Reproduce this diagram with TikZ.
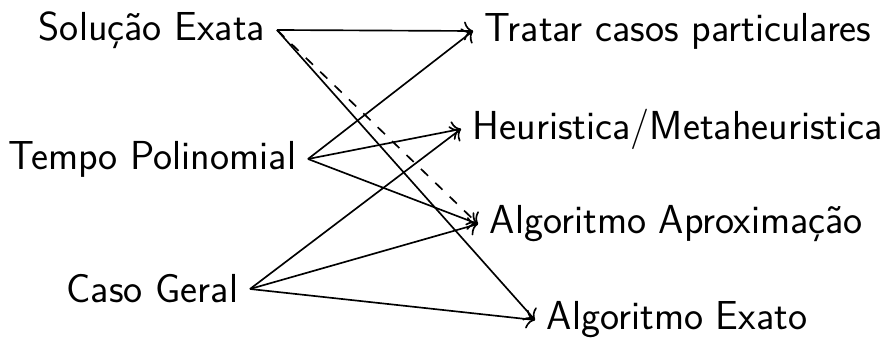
\documentclass[tikz,border=0pt]{standalone}
\usepackage{fontspec}
\setsansfont{lmsans17-regular.otf}
\usetikzlibrary{arrows.meta}
\begin{document}
\begin{tikzpicture}[x=0.3pt, y=-0.3pt, font=\sffamily\fontsize{12.15}{14}\selectfont,
  line width=0.5pt]
  \useasboundingbox (0,0) rectangle (881,339);
  % origens
  \node[anchor=east] (sol)   at (277,30)  {Solução Exata};
  \node[anchor=east] (tempo) at (308,159) {Tempo Polinomial};
  \node[anchor=east] (caso)  at (250,289) {Caso Geral};
  % destinos
  \node[anchor=west] (tratar) at (473,31)  {Tratar casos particulares};
  \node[anchor=west] (heur)   at (461,129) {Heuristica/Metaheuristica};
  \node[anchor=west] (aprox)  at (478,224) {Algoritmo Aproximação};
  \node[anchor=west] (exato)  at (535,320) {Algoritmo Exato};
  % ligacoes
  \draw[->] (sol.east) -- (tratar.west);
  \draw[->, dashed] (sol.east) -- (aprox.west);
  \draw[->] (sol.east) -- (exato.west);
  \draw[->] (tempo.east) -- (tratar.west);
  \draw[->] (tempo.east) -- (heur.west);
  \draw[->] (tempo.east) -- (aprox.west);
  \draw[->] (caso.east) -- (heur.west);
  \draw[->] (caso.east) -- (aprox.west);
  \draw[->] (caso.east) -- (exato.west);
\end{tikzpicture}
\end{document}
